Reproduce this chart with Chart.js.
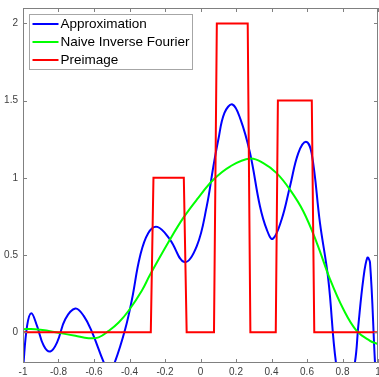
<!DOCTYPE html>
<html>
<head>
<meta charset="utf-8">
<script src="https://cdn.jsdelivr.net/npm/chart.js@4.4.1/dist/chart.umd.min.js"></script>
<style>
  html, body { margin: 0; padding: 0; background: #fff; }
  #wrap { width: 379px; height: 377px; }
</style>
</head>
<body>
<div id="wrap"><canvas id="fourierChart"></canvas></div>
<script>
// Tick values
const xTicks = [-1, -0.8, -0.6, -0.4, -0.2, 0, 0.2, 0.4, 0.6, 0.8, 1];
const yTicks = [0, 0.5, 1, 1.5, 2];

// Approximation (blue)
const approxX = [-1, -0.977, -0.953, -0.921, -0.883, -0.846, -0.808, -0.762, -0.705, -0.658, -0.611,
  -0.545, -0.515, -0.483, -0.424, -0.386, -0.341, -0.294, -0.243, -0.172, -0.091, -0.021, 0.035,
  0.072, 0.1, 0.135, 0.18, 0.225, 0.279, 0.335, 0.373, 0.407, 0.457, 0.504, 0.551, 0.594, 0.626,
  0.673, 0.72, 0.763, 0.815, 0.87, 0.889, 0.917, 0.94, 0.955, 0.983, 1];
const approxY = [-0.24, 0.04, 0.123, 0.04, -0.088, -0.125, -0.066, 0.084, 0.153, 0.105, 0,
  -0.196, -0.26, -0.196, 0.02, 0.213, 0.49, 0.643, 0.682, 0.6, 0.454, 0.557, 0.815,
  1.07, 1.245, 1.42, 1.475, 1.38, 1.16, 0.815, 0.665, 0.604, 0.73, 0.944, 1.16, 1.234, 1.16,
  0.708, 0.342, -0.196, -0.5, -0.196, 0.04, 0.342, 0.482, 0.45, -0.196, -0.5];

// Naive inverse Fourier (green)
const naiveX = [-1, -0.93, -0.855, -0.78, -0.705, -0.63, -0.574, -0.517, -0.461, -0.404, -0.33,
  -0.285, -0.172, -0.097, -0.021, 0.072, 0.166, 0.279, 0.354, 0.429, 0.504, 0.579, 0.655, 0.73,
  0.805, 0.88, 0.955, 1];
const naiveY = [0.019, 0.019, 0.008, -0.008, -0.024, -0.039, -0.034, 0.008, 0.062, 0.14, 0.27,
  0.37, 0.6, 0.74, 0.858, 0.987, 1.073, 1.125, 1.095, 1.03, 0.923, 0.783, 0.579, 0.342,
  0.148, 0.008, -0.056, -0.077];

// Preimage (red step function)
const preimageX = [-1, -0.28, -0.265, -0.094, -0.078, 0.076, 0.092, 0.266, 0.281, 0.424, 0.436, 0.627, 0.641, 1];
const preimageY = [0, 0, 1, 1, 0, 0, 2, 2, 0, 0, 1.5, 1.5, 0, 0];

const seriesLabels = ["Approximation", "Naive Inverse Fourier", "Preimage"];
const seriesColors = ["#0000ff", "#00ff00", "#ff0000"];

const toPoints = (xs, ys) => xs.map((x, i) => ({ x: x, y: ys[i] }));

// legend box sitting inside the axes, top left
const insideLegend = {
  id: "insideLegend",
  afterDatasetsDraw(chart) {
    const ctx = chart.ctx;
    const area = chart.chartArea;
    const left = area.left + 6.5;
    const top = area.top + 6.5;
    const w = 163;
    const h = 55;
    ctx.save();
    ctx.fillStyle = "#fff";
    ctx.fillRect(left, top, w, h);
    ctx.strokeStyle = "#a6a6a6";
    ctx.lineWidth = 1;
    ctx.strokeRect(left, top, w, h);
    ctx.font = "13.5px 'Liberation Sans', Arial, sans-serif";
    ctx.textBaseline = "middle";
    ctx.fillStyle = "#000";
    seriesLabels.forEach((label, i) => {
      const y = top + 9.5 + i * 18;
      ctx.strokeStyle = seriesColors[i];
      ctx.lineWidth = 2;
      ctx.beginPath();
      ctx.moveTo(left + 3, y);
      ctx.lineTo(left + 29, y);
      ctx.stroke();
      ctx.fillText(label, left + 31, y + 0.5);
    });
    ctx.restore();
  }
};

// box round the axes, with tick marks pointing inward on all sides
const axesBox = {
  id: "axesBox",
  afterDraw(chart) {
    const ctx = chart.ctx;
    const a = chart.chartArea;
    const xs = chart.scales.x;
    const ys = chart.scales.y;
    const len = 4;
    ctx.save();
    ctx.strokeStyle = "#808080";
    ctx.lineWidth = 1;
    ctx.strokeRect(a.left + 0.5, a.top + 0.5, a.right - a.left - 1, a.bottom - a.top - 1);
    ctx.beginPath();
    xTicks.forEach(v => {
      const px = Math.round(xs.getPixelForValue(v)) + 0.5;
      ctx.moveTo(px, a.bottom);
      ctx.lineTo(px, a.bottom - len);
      ctx.moveTo(px, a.top);
      ctx.lineTo(px, a.top + len);
    });
    yTicks.forEach(v => {
      const py = Math.round(ys.getPixelForValue(v)) + 0.5;
      ctx.moveTo(a.left, py);
      ctx.lineTo(a.left + len, py);
      ctx.moveTo(a.right, py);
      ctx.lineTo(a.right - len, py);
    });
    ctx.stroke();
    ctx.restore();
  }
};

const tickFont = { family: "'Liberation Sans', Arial, sans-serif", size: 10 };

const ctx = document.getElementById("fourierChart").getContext("2d");
const fourierChart = new Chart(ctx, {
  type: "line",
  data: {
    datasets: [
      {
        label: seriesLabels[0],
        data: toPoints(approxX, approxY),
        borderColor: seriesColors[0],
        borderWidth: 2,
        pointRadius: 0,
        tension: 0.4,
        order: 3
      },
      {
        label: seriesLabels[1],
        data: toPoints(naiveX, naiveY),
        borderColor: seriesColors[1],
        borderWidth: 2,
        pointRadius: 0,
        tension: 0.4,
        order: 2
      },
      {
        label: seriesLabels[2],
        data: toPoints(preimageX, preimageY),
        borderColor: seriesColors[2],
        borderWidth: 2,
        pointRadius: 0,
        tension: 0,
        order: 1
      }
    ]
  },
  options: {
    responsive: true,
    maintainAspectRatio: false,
    animation: false,
    elements: { line: { capBezierPoints: false } },
    layout: { padding: { top: 8, right: 1, left: 0, bottom: 0 } },
    plugins: {
      legend: { display: false },
      tooltip: { enabled: false }
    },
    scales: {
      x: {
        type: "linear",
        min: -1,
        max: 1,
        grid: { display: false, drawTicks: false },
        border: { display: false },
        ticks: {
          padding: 3,
          color: "#404040",
          font: tickFont,
          maxRotation: 0,
          callback: (v) => String(v)
        },
        afterBuildTicks: (scale) => { scale.ticks = xTicks.map(v => ({ value: v })); },
        afterFit: (scale) => {
          scale.height = 14;
          scale.paddingLeft = 0;
          scale.paddingRight = 0;
        }
      },
      y: {
        type: "linear",
        min: -0.2,
        max: 2.1,
        grid: { display: false, drawTicks: false },
        border: { display: false },
        ticks: {
          padding: 5,
          color: "#404040",
          font: tickFont,
          callback: (v) => String(v)
        },
        afterBuildTicks: (scale) => { scale.ticks = yTicks.map(v => ({ value: v })); },
        afterFit: (scale) => {
          scale.width = 23;
          scale.paddingTop = 0;
          scale.paddingBottom = 0;
        }
      }
    }
  },
  plugins: [insideLegend, axesBox]
});
</script>
</body>
</html>
